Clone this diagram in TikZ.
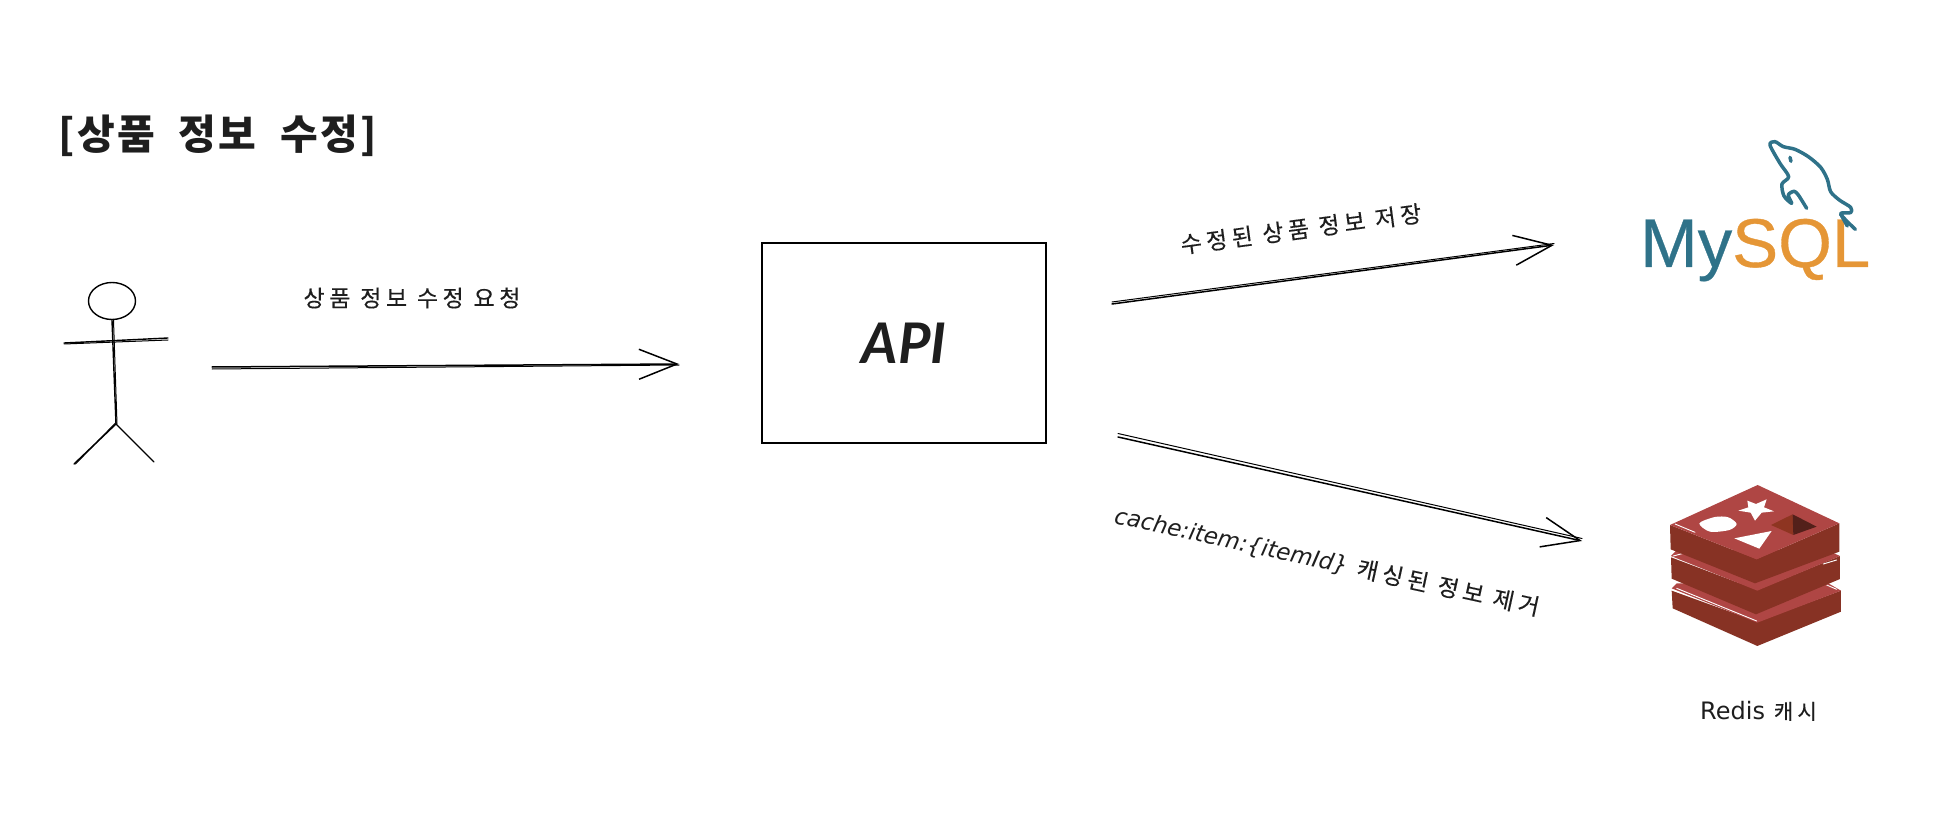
\documentclass[tikz,border=0pt]{standalone}
\usepackage{fontspec}
\newfontfamily\krfont[LetterSpace=20, FakeBold=0.25]{Noto Sans CJK KR}
\newfontfamily\titlefont[LetterSpace=6, WordSpace=2]{Noto Sans CJK KR}
\newfontfamily\handfont{DejaVu Sans}
\newfontfamily\apifont{Lato}
\newfontfamily\logofont[FakeBold=0.5]{Liberation Sans}
\usetikzlibrary{arrows.meta, shapes.geometric}
\definecolor{ink}{HTML}{1E1E1E}
\definecolor{mysqlblue}{HTML}{2F7289}
\definecolor{mysqlorange}{HTML}{E59636}
\definecolor{redistop}{HTML}{AF4644}
\definecolor{redisside}{HTML}{873224}
\definecolor{redishole}{HTML}{8E3521}
\definecolor{redisdeep}{HTML}{53201A}
\begin{document}
\begin{tikzpicture}[
    x = 1pt,
    y = -1pt,
    sketch/.style = {draw = black, line width = 1.4pt, line cap = round},
    thinsketch/.style = {draw = black, line width = 1pt, line cap = round},
    flow/.style = {sketch, line width = 1.5pt, -{Straight Barb[length = 38pt, width = 30pt]}},
    caption/.style = {text = ink, inner sep = 0pt, font = \krfont\fontsize{23}{23}\selectfont},
    headline/.style = {caption, font = \titlefont\bfseries\fontsize{41}{41}\selectfont},
    apibox/.style = {sketch, rectangle, minimum width = 284pt, minimum height = 200pt},
    headnode/.style = {sketch, ellipse, minimum width = 47pt, minimum height = 37pt, inner sep = 0pt},
    redisface/.style = {fill = redistop, draw = none},
    rediswall/.style = {fill = redisside, draw = none},
    shine/.style = {draw = white, line width = 0.9pt, line cap = round}
  ]
  \useasboundingbox (0,0) rectangle (1936,818);

  % Title
  \node [headline, anchor = west] (title) at (58,136) {[상품 정보 수정]};

  % Actor
  \node [headnode] (head) at (112,301) {};
  \coordinate (arml) at (64,343);
  \coordinate (armr) at (168,338);
  \coordinate (hip) at (116,424);
  \coordinate (legl) at (74,464);
  \coordinate (legr) at (154,462);
  \draw [sketch] (head.south) -- (hip);
  \draw [thinsketch] ([xshift = 1.5pt]head.south) -- ([xshift = 1pt]hip);
  \draw [sketch] (arml) -- (armr);
  \draw [thinsketch] ([yshift = -1pt]arml) -- ([yshift = -2pt]armr);
  \draw [sketch] (hip) -- (legl);
  \draw [thinsketch] ([yshift = 1.5pt]hip) -- ([xshift = 1.5pt]legl);
  \draw [sketch] (hip) -- (legr);

  % API
  \node [apibox] (api) at (904,343) {};
  \node [inner sep = 0pt, text = ink, font = \apifont\bfseries\itshape\fontsize{56}{56}\selectfont] (apilabel) at (api) {API};

  % Request
  \coordinate (reqfrom) at (212,367);
  \coordinate (reqto) at (679,364);
  \draw [flow] (reqfrom) -- (reqto);
  \draw [thinsketch] ([yshift = -2pt]reqfrom) -- ([yshift = -1pt]reqto);
  \node [caption] (reqlabel) at (412,298) {상품 정보 수정 요청};

  % Save
  \coordinate (savefrom) at (1112,304);
  \coordinate (saveto) at (1554,245);
  \draw [flow] (savefrom) -- (saveto);
  \draw [thinsketch] ([yshift = 2pt]savefrom) -- ([yshift = 1.5pt]saveto);
  \node [caption, rotate = 7.6] (savelabel) at (1301,229) {수정된 상품 정보 저장};

  % Evict
  \coordinate (evictfrom) at (1118,437);
  \coordinate (evictto) at (1582,541);
  \draw [flow] (evictfrom) -- (evictto);
  \draw [thinsketch] ([yshift = 3.5pt]evictfrom) -- ([yshift = 2.5pt]evictto);
  \node [caption, rotate = -12.3] (evictlabel) at (1327,562)
    {{\handfont\itshape cache:item:\{itemId\}} 캐싱된 정보 제거};

  % MySQL
  \node [anchor = base west, inner sep = 0pt, font = \logofont\fontsize{69}{69}\selectfont] (mysql) at (1640,267)
    {\textcolor{mysqlblue}{My}\textcolor{mysqlorange}{SQL}};
  \begin{scope}[shift = {(1580,120)}, x = 0.3333pt, y = -0.3333pt,
      line width = 3.5pt, draw = mysqlblue, line cap = round, line join = round]
    \draw plot [smooth] coordinates {(680,265) (655,225) (642,214) (625,225) (635,250) (612,228)
      (606,192) (626,170) (600,130) (570,75) (585,65) (610,80) (645,88) (685,110) (722,142)
      (742,178) (752,215) (778,240) (812,262) (812,278) (782,282) (826,328)};
    \draw (782,282) -- (802,318);
    \draw (630,112) -- (633,124);
  \end{scope}

  % Redis
  \begin{scope}[shift = {(1620,470)}, x = 0.3333pt, y = -0.3333pt]
    \fill [rediswall] (155,362) -- (158,415) -- (412,528) -- (663,425) -- (663,362) -- (412,455) -- cycle;
    \fill [redisface] (155,355) -- (170,340) -- (625,340) -- (663,362) -- (412,458) -- cycle;
    \draw [shine] (170,355) -- (410,453);
    \draw [shine] (620,345) -- (650,358);
    \fill [rediswall] (153,262) -- (155,326) -- (408,433) -- (660,327) -- (660,258) -- (412,360) -- cycle;
    \fill [redisface] (153,258) -- (170,240) -- (620,240) -- (660,258) -- (412,362) -- cycle;
    \draw [shine] (160,258) -- (190,250);
    \draw [shine] (610,282) -- (650,270);
    \fill [rediswall] (150,165) -- (152,238) -- (405,340) -- (658,245) -- (658,160) -- (410,268) -- cycle;
    \fill [redisface] (150,165) -- (413,45) -- (658,160) -- (410,268) -- cycle;
    \draw [shine] (165,162) -- (225,187);
    \fill [white] (382,92) -- (408,102) -- (440,88) -- (432,112) -- (462,124) -- (425,128)
      -- (405,152) -- (392,128) -- (355,122) -- (385,112) -- cycle;
    \fill [white] plot [smooth cycle] coordinates {(238,160) (285,141) (325,142) (350,162) (328,180) (270,185)};
    \fill [white] (343,205) -- (455,183) -- (418,236) -- cycle;
    \fill [redishole] (453,165) -- (518,133) -- (520,195) -- cycle;
    \fill [redisdeep] (518,133) -- (590,170) -- (520,195) -- cycle;
  \end{scope}
  \node [caption, anchor = west, font = \krfont\fontsize{21}{21}\selectfont] (redislabel) at (1700,711)
    {{\handfont\fontsize{24}{24}\selectfont Redis} 캐시};
\end{tikzpicture}
\end{document}
